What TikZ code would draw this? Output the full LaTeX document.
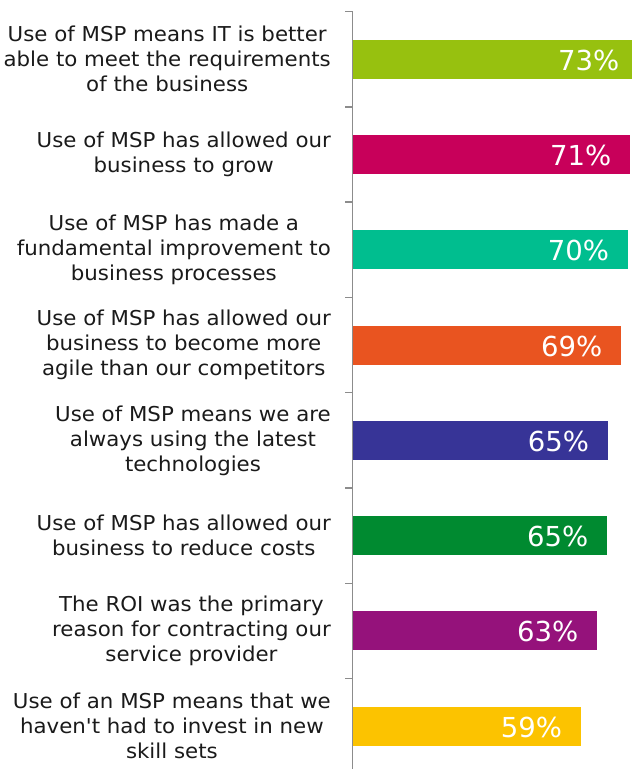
\documentclass[tikz,border=0pt]{standalone}
\usepackage{fontspec}
\setmainfont{DejaVu Sans}[Ligatures=TeXOff]
\newfontfamily\catfont{DejaVu Sans}[Ligatures=TeXOff, FakeStretch=1.04]
\definecolor{cA}{RGB}{151,193,15}
\definecolor{cB}{RGB}{200,0,90}
\definecolor{cC}{RGB}{0,190,143}
\definecolor{cD}{RGB}{233,84,32}
\definecolor{cE}{RGB}{55,52,151}
\definecolor{cF}{RGB}{0,138,48}
\definecolor{cG}{RGB}{149,18,123}
\definecolor{cH}{RGB}{252,195,0}
\definecolor{axisgray}{RGB}{140,140,140}
\definecolor{txt}{RGB}{26,26,26}
\tikzset{
  catlabel/.style={anchor=east, align=center, inner sep=0pt, text=txt,
    font=\catfont\fontsize{20.5}{25}\selectfont},
  pctlabel/.style={anchor=east, inner sep=0pt, text=white,
    font=\fontsize{27.5}{30}\selectfont},
  axisline/.style={draw=axisgray, line width=1.5pt},
}
\begin{document}
\begin{tikzpicture}[x=1pt,y=-1pt]
\useasboundingbox (0,0) rectangle (632,769);
\begin{scope}
\clip (0,0) rectangle (632,769);
% bars
\foreach \i/\e/\c/\p in {0/638/cA/73,1/630/cB/71,2/627.7/cC/70,3/621/cD/69,4/607.7/cE/65,5/607/cF/65,6/597/cG/63,7/580.7/cH/59}{
  \pgfmathsetmacro{\cy}{11.5+95.3*(\i+0.5)}
  \fill[\c] (353,\cy-19.5) rectangle (\e,\cy+19.5);
  \node[pctlabel] (p\i) at (\e-18.5,\cy+1) {\p\%};
}
% axis
\coordinate (atop) at (352.5,11.5);
\coordinate (abot) at (352.5,775);
\draw[axisline] (atop) -- (abot);
\foreach \k in {0,...,7}{
  \pgfmathsetmacro{\ty}{11.5+95.3*\k}
  \coordinate (t\k) at (345,\ty);
  \coordinate (u\k) at (352.5,\ty);
  \draw[axisline] (t\k) -- (u\k);
}
\end{scope}
% category labels
\node[catlabel] (l0) at (331,59.2) {Use of MSP means IT is better\\able to meet the requirements\\of the business};
\node[catlabel] (l1) at (331,154.5) {Use of MSP has allowed our\\business to grow};
\node[catlabel] (l2) at (331,249.8) {Use of MSP has made a\\fundamental improvement to\\business processes};
\node[catlabel] (l3) at (331,345.1) {Use of MSP has allowed our\\business to become more\\agile than our competitors};
\node[catlabel] (l4) at (331,440.4) {Use of MSP means we are\\always using the latest\\technologies};
\node[catlabel] (l5) at (331,535.7) {Use of MSP has allowed our\\business to reduce costs};
\node[catlabel] (l6) at (331,631.0) {The ROI was the primary\\reason for contracting our\\service provider};
\node[catlabel] (l7) at (331,726.3) {Use of an MSP means that we\\haven't had to invest in new\\skill sets};
\end{tikzpicture}
\end{document}
